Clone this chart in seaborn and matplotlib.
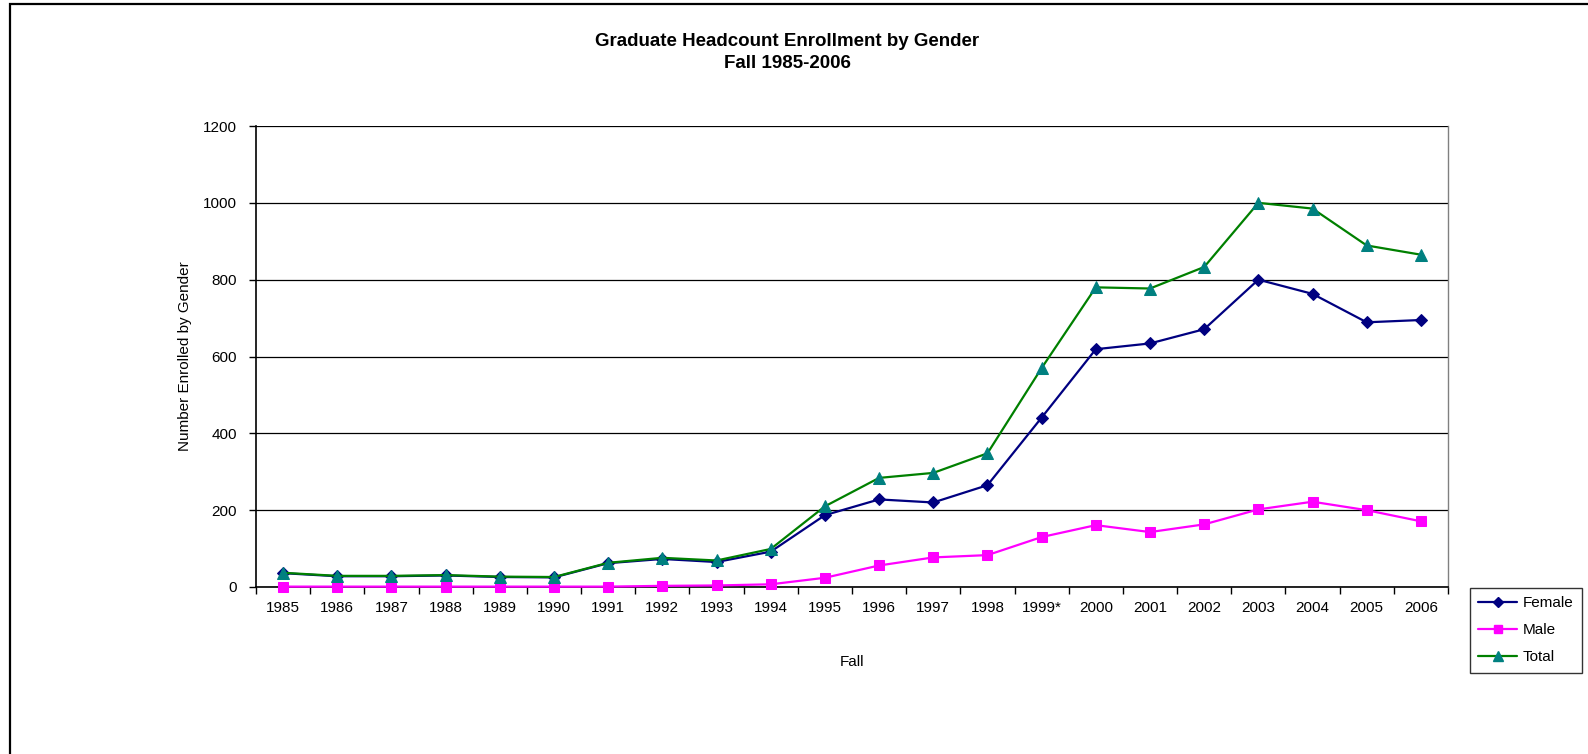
import matplotlib
matplotlib.use("Agg")
import matplotlib.pyplot as plt
import seaborn as sns
import pandas as pd
import numpy as np
from matplotlib.patches import Rectangle
from matplotlib.lines import Line2D

years = ["1985", "1986", "1987", "1988", "1989", "1990", "1991", "1992", "1993", "1994",
         "1995", "1996", "1997", "1998", "1999*", "2000", "2001", "2002", "2003", "2004",
         "2005", "2006"]
female = [36, 28, 28, 30, 26, 25, 62, 73, 65, 92,
          187, 228, 220, 265, 441, 619, 634, 671, 800, 763, 689, 695]
male = [1, 1, 1, 1, 1, 1, 1, 3, 4, 7,
        24, 56, 77, 83, 130, 161, 143, 163, 202, 222, 200, 171]
total = [37, 29, 29, 31, 27, 26, 63, 76, 69, 99,
         210, 284, 297, 348, 570, 780, 777, 833, 1000, 985, 889, 865]

sns.set_theme(style="white")
plt.rcParams['font.family'] = ['Liberation Sans', 'DejaVu Sans']
plt.rcParams['text.color'] = 'black'
plt.rcParams['axes.labelcolor'] = 'black'
plt.rcParams['xtick.color'] = 'black'
plt.rcParams['ytick.color'] = 'black'

fig = plt.figure(figsize=(15.88, 7.54), dpi=100)
ax = fig.add_axes([256/1588, 1-587/754, (1448-256)/1588, (587-126)/754])

# outer chart frame
fig.patches.append(Rectangle((10/1588, -0.05), 1.2, 1-4/754+0.05, transform=fig.transFigure,
                             fill=False, edgecolor="black", linewidth=1.6, zorder=0))

df = pd.DataFrame({"Fall": years, "Female": female, "Male": male, "Total": total})
series = [
    ("Female", "#000080", "#000080", "D", 6),
    ("Male", "#FF00FF", "#FF00FF", "s", 7),
    ("Total", "#008000", "#008080", "^", 9),
]
for name, lc, mc, mk, ms in series:
    sns.lineplot(data=df, x="Fall", y=name, ax=ax, color=lc, marker=mk, markersize=ms,
                 markerfacecolor=mc, markeredgecolor=mc, linewidth=1.6, sort=False,
                 label=name, legend=False, clip_on=False, zorder=3)

ax.set_xlim(-0.5, len(years) - 0.5)
ax.set_ylim(0, 1200)
ax.set_yticks(range(0, 1201, 200))
ax.yaxis.grid(True, color="black", linewidth=0.9)
ax.xaxis.grid(False)
ax.set_axisbelow(True)

ax.set_xticks(range(len(years)))
ax.set_xticklabels(years, fontsize=11)
ax.set_xticks(np.arange(-0.5, len(years), 1.0), minor=True)
ax.tick_params(axis="x", which="major", length=0, pad=10)
ax.tick_params(axis="x", which="minor", length=5, width=1, color="black", direction="out", bottom=True)
ax.tick_params(axis="y", which="major", length=5, width=1, color="black", direction="out",
               left=True, labelsize=11, pad=8.5)

ax.spines["top"].set_visible(False)
ax.spines["right"].set_visible(True)
ax.spines["right"].set_color("#808080")
ax.spines["right"].set_linewidth(1.0)
ax.spines["left"].set_color("black")
ax.spines["bottom"].set_color("black")
ax.spines["left"].set_linewidth(1.2)
ax.spines["bottom"].set_linewidth(1.2)

ax.set_xlabel("Fall", fontsize=11)
ax.set_ylabel("Number Enrolled by Gender", fontsize=11)
ax.xaxis.set_label_coords((852-256)/1192, (587-662)/461)
ax.yaxis.set_label_coords((185-256)/1192, 0.5)
ax.xaxis.label.set_va("center")
ax.yaxis.label.set_va("center")

fig.text(787/1588, 1-42/754, "Graduate Headcount Enrollment by Gender", ha="center", va="center",
         fontsize=13.5, fontweight="bold")
fig.text(787/1588, 1-63/754, "Fall 1985-2006", ha="center", va="center",
         fontsize=13.5, fontweight="bold")

handles = [Line2D([0], [0], color=lc, marker=mk, markersize=ms*0.85, markerfacecolor=mc,
                  markeredgecolor=mc, linewidth=1.6) for _, lc, mc, mk, ms in series]
leg = fig.legend(handles, [s[0] for s in series], loc="upper left",
                 bbox_to_anchor=(1470/1588, 1-588/754), fontsize=11, frameon=True,
                 fancybox=False, edgecolor="black", handlelength=2.5, borderpad=0.55,
                 labelspacing=0.85, handletextpad=0.4, borderaxespad=0)
leg.get_frame().set_linewidth(1.0)

fig.savefig("out.png", dpi=100, facecolor="white")
